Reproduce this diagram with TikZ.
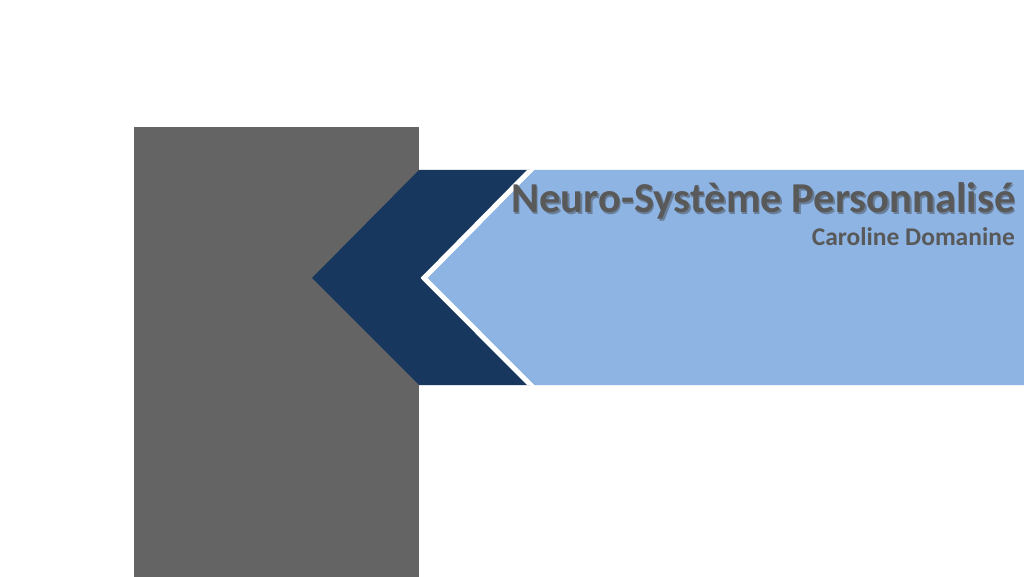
\documentclass[tikz,border=0pt]{standalone}
\usepackage{fontspec}
\setmainfont{Carlito}
\definecolor{navy}{HTML}{17375E}
\definecolor{lightblue}{HTML}{8EB4E3}
\definecolor{slab}{HTML}{646464}
\definecolor{txt}{HTML}{595959}
\begin{document}
\begin{tikzpicture}[x=1pt,y=-1pt,
  titlestyle/.style={font=\bfseries\fontsize{42.6}{46}\selectfont, text=txt, anchor=base east, inner sep=0pt},
  substyle/.style={font=\bfseries\fontsize{25.5}{29}\selectfont, text=txt, anchor=base east, inner sep=0pt}]
\useasboundingbox[fill=white] (0,0) rectangle (1024,577);
\fill[slab] (134,127) rectangle (419,577);
\fill[navy] (312,278) -- (419,170) -- (530,170) -- (422,278) -- (530,385) -- (419,385) -- cycle;
\fill[lightblue] (534,170) -- (1024,170) -- (1024,385) -- (534,385) -- (427.5,278) -- cycle;
\fill[white] (527,170) -- (534,170) -- (427.5,278) -- (534,385) -- (527,385) -- (420.5,278) -- cycle;
\node[titlestyle, text=black!75, opacity=0.45] at (1017.5,214.5) {Neuro-Système Personnalisé};
\node[titlestyle] (title) at (1016,213) {Neuro-Système Personnalisé};
\node[substyle] (sub) at (1015,245) {Caroline Domanine};
\end{tikzpicture}
\end{document}
